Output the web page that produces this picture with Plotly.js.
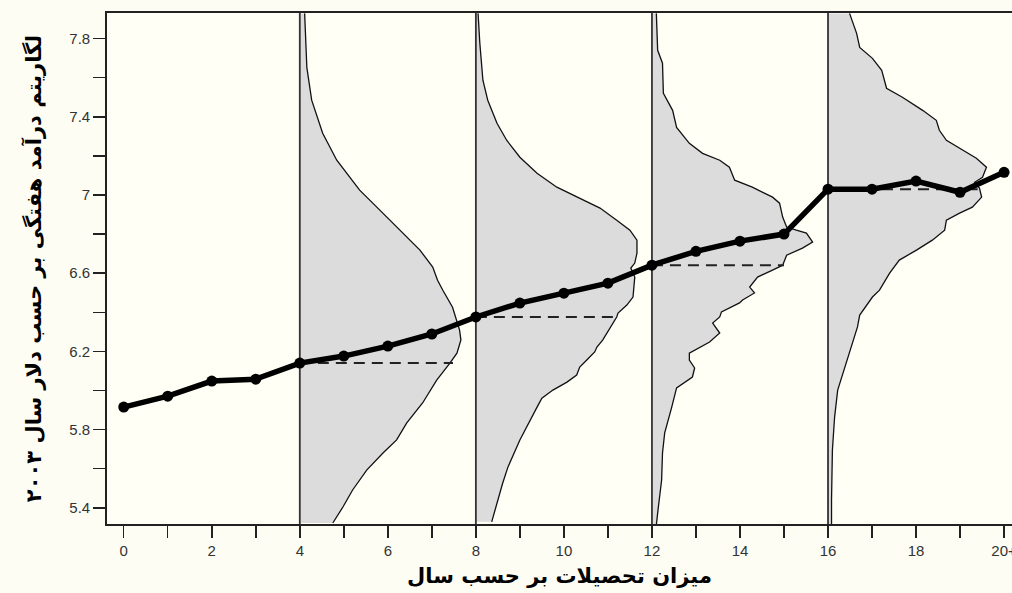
<!DOCTYPE html>
<html>
<head>
<meta charset="utf-8">
<script src="https://cdn.plot.ly/plotly-3.0.1.min.js"></script>
<style>html,body{margin:0;padding:0;background:#fdfdf3;}#chart{width:1012px;height:593px;}</style>
</head>
<body>
<div id="chart"></div>
<script>
// Years of schooling and mean log weekly earnings
const years = [0,1,2,3,4,5,6,7,8,9,10,11,12,13,14,15,16,17,18,19,20];
const meanLogWage = [5.915,5.971,6.048,6.058,6.140,6.176,6.227,6.289,6.376,6.447,6.498,6.549,6.641,6.712,6.764,6.800,7.030,7.030,7.071,7.014,7.116];

// Density bases (years of schooling where a distribution is drawn)
const densityBases = [4, 8, 12, 16];

// Density 4 years
const dens4Y = [7.929,7.653,7.485,7.316,7.178,7.025,6.938,6.820,6.718,6.631,6.564,6.513,6.426,6.309,6.258,6.191,6.140,6.053,5.936,5.834,5.747,5.680,5.593,5.491,5.404,5.322];
const dens4W = [0.11,0.16,0.27,0.52,0.84,1.36,1.75,2.27,2.73,3.02,3.13,3.25,3.47,3.63,3.66,3.57,3.41,3.11,2.79,2.43,2.20,1.89,1.52,1.20,0.98,0.75];

// Density 8 years
const dens8Y = [7.929,7.776,7.587,7.485,7.367,7.280,7.193,7.111,7.040,6.984,6.933,6.871,6.820,6.769,6.703,6.652,6.626,6.580,6.513,6.478,6.437,6.396,6.376,6.319,6.258,6.222,6.197,6.156,6.120,6.079,6.043,6.002,5.961,5.915,5.849,5.747,5.711,5.609,5.527,5.425,5.328];
const dens8W = [0.05,0.09,0.16,0.27,0.48,0.70,1.00,1.39,1.84,2.36,2.82,3.20,3.50,3.66,3.66,3.61,3.52,3.61,3.59,3.57,3.43,3.23,3.20,3.04,2.88,2.75,2.70,2.52,2.36,2.29,2.07,1.75,1.50,1.39,1.23,1.00,0.93,0.73,0.61,0.48,0.36];

// Density 12 years
const dens12Y = [7.929,7.740,7.674,7.520,7.433,7.346,7.264,7.213,7.178,7.142,7.076,7.040,6.989,6.958,6.887,6.836,6.820,6.805,6.759,6.728,6.692,6.641,6.616,6.580,6.529,6.499,6.463,6.448,6.402,6.376,6.345,6.294,6.248,6.191,6.156,6.115,6.069,6.013,5.915,5.834,5.783,5.680,5.542,5.373,5.312];
const dens12W = [0.10,0.13,0.24,0.26,0.47,0.56,0.85,1.15,1.54,1.76,1.88,2.28,2.74,2.90,2.97,3.06,3.28,3.51,3.65,3.42,3.06,2.97,2.74,2.40,2.22,2.33,2.06,1.99,1.58,1.54,1.38,1.54,1.31,0.85,0.85,0.97,0.92,0.56,0.45,0.35,0.29,0.24,0.22,0.13,0.10];

// Density 16 years
const dens16Y = [7.929,7.827,7.755,7.699,7.638,7.546,7.500,7.433,7.382,7.331,7.280,7.229,7.188,7.142,7.091,7.065,7.035,6.989,6.938,6.907,6.871,6.820,6.769,6.718,6.667,6.600,6.513,6.478,6.386,6.325,6.222,6.141,6.002,5.864,5.696,5.440,5.302];
const dens16W = [0.49,0.65,0.72,1.01,1.22,1.33,1.69,2.15,2.46,2.53,2.69,3.05,3.37,3.60,3.51,3.33,3.44,3.49,3.28,2.99,2.69,2.65,2.37,2.01,1.62,1.40,1.17,1.01,0.72,0.67,0.53,0.42,0.22,0.15,0.10,0.08,0.08];

// Dashed reference lines (level = mean at base, end = where it meets the density)
const dashLevel = [6.140, 6.376, 6.641, 7.030];
const dashEnd = [7.48, 11.2, 15.0, 19.4];

// Tick labels
const xTickVals = [0,1,2,3,4,5,6,7,8,9,10,11,12,13,14,15,16,17,18,19,20];
const xTickText = ['0','','2','','4','','6','','8','','10','','12','','14','','16','','18','','20+'];
const yTickVals = [5.4,5.6,5.8,6.0,6.2,6.4,6.6,6.8,7.0,7.2,7.4,7.6,7.8];
const yTickText = ['5.4','','5.8','','6.2','','6.6','','7','','7.4','','7.8'];

const densY = [dens4Y, dens8Y, dens12Y, dens16Y];
const densW = [dens4W, dens8W, dens12W, dens16W];

const yMin = 5.317, yMax = 7.931;
const traces = [];

densityBases.forEach((b, i) => {
  const ys = densY[i], ws = densW[i];
  const xs = ws.map(w => b + w);
  traces.push({
    x: [b].concat(xs, [b]),
    y: [ys[0]].concat(ys, [ys[ys.length-1]]),
    mode: 'lines', fill: 'toself', fillcolor: '#dcdcdc',
    line: {color: 'rgba(0,0,0,0)', width: 0},
    hoverinfo: 'skip', showlegend: false
  });
  traces.push({
    x: xs, y: ys, mode: 'lines',
    line: {color: '#111', width: 1.3},
    hoverinfo: 'skip', showlegend: false
  });
});

densityBases.forEach(b => {
  traces.push({
    x: [b, b], y: [yMin - 0.1, yMax + 0.1], mode: 'lines',
    line: {color: '#333', width: 1.8}, hoverinfo: 'skip', showlegend: false
  });
});

densityBases.forEach((b, i) => {
  traces.push({
    x: [b, dashEnd[i]], y: [dashLevel[i], dashLevel[i]], mode: 'lines',
    line: {color: '#222', width: 2, dash: '11px,7px'},
    hoverinfo: 'skip', showlegend: false
  });
});

traces.push({
  x: years, y: meanLogWage, mode: 'lines+markers',
  line: {color: '#000', width: 5.5},
  marker: {color: '#000', size: 11},
  showlegend: false
});

const axisFont = {family: 'Liberation Sans, Arial, sans-serif', size: 15, color: '#333'};

const layout = {
  width: 1012, height: 593,
  margin: {l: 107, r: 0, t: 13, b: 69},
  paper_bgcolor: '#fdfdf3', plot_bgcolor: '#fffff6',
  showlegend: false,
  xaxis: {
    range: [-0.38, 20.18], tickmode: 'array', tickvals: xTickVals, ticktext: xTickText,
    ticks: 'outside', ticklen: 12, tickwidth: 1.5, tickcolor: '#222',
    showline: true, linecolor: '#222', linewidth: 1.8, mirror: true,
    showgrid: false, zeroline: false, tickfont: axisFont, ticklabeloverflow: 'allow',
    title: {text: 'میزان تحصیلات بر حسب سال', font: {family: 'DejaVu Sans, sans-serif', size: 21, color: '#000', weight: 'bold'}, standoff: 10}
  },
  yaxis: {
    range: [yMin, yMax], tickmode: 'array', tickvals: yTickVals, ticktext: yTickText,
    ticks: 'outside', ticklen: 12, tickwidth: 1.5, tickcolor: '#222',
    showline: true, linecolor: '#222', linewidth: 1.8, mirror: false,
    showgrid: false, zeroline: false, tickfont: axisFont,
    title: {text: 'لگاریتم درآمد هفتگی بر حسب دلار سال ۲۰۰۳', font: {family: 'DejaVu Sans, sans-serif', size: 21, color: '#000', weight: 'bold'}, standoff: 22}
  }
};

Plotly.newPlot('chart', traces, layout, {displayModeBar: false, staticPlot: true});
</script>
</body>
</html>
